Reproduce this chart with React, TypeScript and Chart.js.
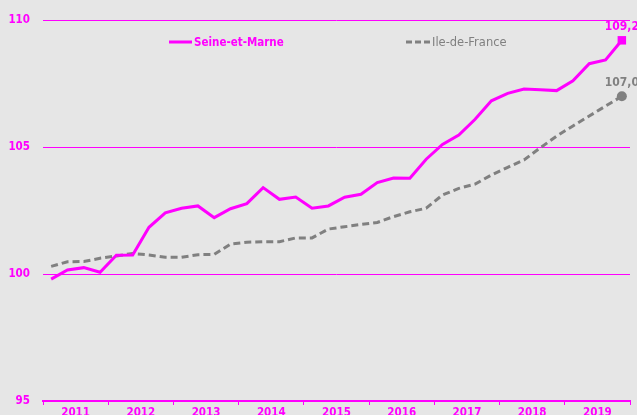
import React, { useEffect, useRef } from "react";
import { Chart, registerables } from "chart.js";

Chart.register(...registerables);

const years = ["2011", "2012", "2013", "2014", "2015", "2016", "2017", "2018", "2019"];
const seineEtMarne = [
  99.8, 100.16, 100.25, 100.07, 100.74, 100.75, 101.84, 102.41,
  102.59, 102.68, 102.22, 102.57, 102.77, 103.4, 102.94, 103.03,
  102.59, 102.68, 103.02, 103.14, 103.6, 103.78, 103.77, 104.52,
  105.1, 105.47, 106.09, 106.82, 107.11, 107.28, 107.25, 107.22,
  107.61, 108.28, 108.43, 109.2,
];
const ileDeFrance = [
  100.3, 100.48, 100.49, 100.62, 100.71, 100.81, 100.75, 100.66,
  100.66, 100.76, 100.77, 101.18, 101.25, 101.27, 101.27, 101.42,
  101.42, 101.77, 101.86, 101.95, 102.03, 102.26, 102.45, 102.59,
  103.11, 103.37, 103.54, 103.9, 104.2, 104.49, 104.97, 105.43,
  105.83, 106.22, 106.61, 107.0,
];
const seriesNames = ["Seine-et-Marne", "Ile-de-France"];
const endLabels = ["109,2", "107,0"];
const yTicks = [95, 100, 105, 110];

const MAGENTA = "#ff00ff";
const GRAY = "#808080";
const BG = "#e6e6e6";
const FONT = "'DejaVu Sans', Verdana, sans-serif";
const FONT_C = "'DejaVu Sans Condensed', 'DejaVu Sans', sans-serif";

export default function App() {
  const ref = useRef<HTMLCanvasElement | null>(null);

  useEffect(() => {
    document.body.style.margin = "0";
    document.body.style.background = BG;
    const canvas = ref.current!;
    const n = seineEtMarne.length;
    const toXY = (arr: number[]) => arr.map((v, i) => ({ x: i + 0.5, y: v }));

    const bgPlugin = {
      id: "bg",
      beforeDraw(chart: any) {
        const c = chart.ctx;
        c.save();
        c.fillStyle = BG;
        c.fillRect(0, 0, chart.width, chart.height);
        c.restore();
      },
    };

    const overlay = {
      id: "overlay",
      afterDatasetsDraw(chart: any) {
        const c = chart.ctx;
        c.save();
        const colors = [MAGENTA, GRAY];
        chart.data.datasets.forEach((ds: any, di: number) => {
          const meta = chart.getDatasetMeta(di);
          const pt = meta.data[meta.data.length - 1];
          c.font = "bold 12px " + FONT_C;
          c.fillStyle = colors[di];
          c.textAlign = "center";
          c.textBaseline = "bottom";
          c.fillText(endLabels[di], pt.x, pt.y - 7);
        });
        c.textAlign = "left";
        c.textBaseline = "middle";
        const ly = 42;
        c.strokeStyle = MAGENTA;
        c.lineWidth = 3;
        c.setLineDash([]);
        c.beginPath();
        c.moveTo(169, ly);
        c.lineTo(192, ly);
        c.stroke();
        c.font = "bold 11.5px " + FONT_C;
        c.fillStyle = MAGENTA;
        c.fillText(seriesNames[0], 194, ly + 1);

        c.strokeStyle = GRAY;
        c.setLineDash([6, 3]);
        c.beginPath();
        c.moveTo(406, ly);
        c.lineTo(430, ly);
        c.stroke();
        c.setLineDash([]);
        c.font = "11.5px " + FONT;
        c.fillStyle = GRAY;
        c.fillText(seriesNames[1], 432, ly + 1);
        c.restore();
      },
    };

    const chart = new Chart(canvas, {
      type: "line",
      data: {
        datasets: [
          {
            label: seriesNames[0],
            data: toXY(seineEtMarne),
            borderColor: MAGENTA,
            backgroundColor: MAGENTA,
            borderWidth: 3,
            pointStyle: "rect",
            pointRadius: (ctx: any) => (ctx.dataIndex === n - 1 ? 6 : 0),
            pointBorderWidth: 0,
            tension: 0,
          },
          {
            label: seriesNames[1],
            data: toXY(ileDeFrance),
            borderColor: GRAY,
            backgroundColor: GRAY,
            borderWidth: 3,
            borderDash: [7, 4],
            pointStyle: "circle",
            pointRadius: (ctx: any) => (ctx.dataIndex === n - 1 ? 5 : 0),
            pointBorderWidth: 0,
            tension: 0,
          },
        ],
      },
      options: {
        animation: false,
        responsive: false,
        maintainAspectRatio: false,
        layout: { padding: { top: 20, right: 7, left: 0, bottom: 0 } },
        plugins: {
          legend: { display: false },
          tooltip: { enabled: false },
        },
        scales: {
          x: {
            type: "linear",
            min: 0,
            max: n,
            afterBuildTicks(scale: any) {
              const t = [];
              for (let v = 0; v <= n; v += 2) t.push({ value: v });
              scale.ticks = t;
            },
            afterFit(scale: any) {
              scale.height = 14;
            },
            grid: {
              drawOnChartArea: false,
              drawTicks: true,
              tickLength: 4,
              tickColor: (ctx: any) =>
                ctx.tick && ctx.tick.value % 4 === 0 ? MAGENTA : "rgba(0,0,0,0)",
              tickWidth: 1,
            },
            border: { display: true, color: MAGENTA, width: 2 },
            ticks: {
              autoSkip: false,
              maxRotation: 0,
              padding: 1,
              color: MAGENTA,
              font: { family: FONT_C, size: 11.5, weight: "bold" },
              callback: (v: any) => {
                const val = Number(v);
                if (val % 4 === 2) return years[(val - 2) / 4];
                return "";
              },
            },
          },
          y: {
            min: 95,
            max: 110,
            afterBuildTicks(scale: any) {
              scale.ticks = yTicks.map((v) => ({ value: v }));
            },
            afterFit(scale: any) {
              scale.width = 43;
            },
            grid: {
              color: (ctx: any) => (ctx.tick && ctx.tick.value === 95 ? "rgba(0,0,0,0)" : MAGENTA),
              lineWidth: 1,
              drawTicks: true,
              tickLength: 13,
              tickColor: "rgba(0,0,0,0)",
            },
            border: { display: false },
            ticks: {
              padding: 0,
              color: MAGENTA,
              font: { family: FONT_C, size: 11.5, weight: "bold" },
              callback: (v: any) => String(v),
            },
          },
        },
      },
      plugins: [bgPlugin, overlay],
    } as any);

    return () => chart.destroy();
  }, []);

  return (
    <div style={{ width: 637, height: 415, background: BG }}>
      <canvas ref={ref} width={637} height={415} style={{ display: "block" }} />
    </div>
  );
}
